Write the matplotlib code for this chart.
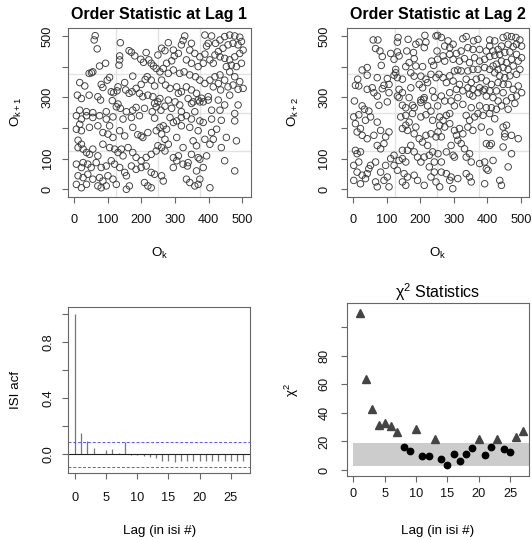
import numpy as np
import matplotlib
matplotlib.use("Agg")
import matplotlib.pyplot as plt

plt.rcParams['font.family'] = ['Liberation Sans', 'DejaVu Sans']
plt.rcParams['mathtext.fontset'] = 'custom'
plt.rcParams['mathtext.rm'] = 'Liberation Sans'
plt.rcParams['mathtext.it'] = 'Liberation Sans:italic'

# ---------------- data ----------------
lag1_points = [
    (62,501),(59,487),(68,458),(137,478),(163,452),(170,447),(180,435),(214,446),(198,424),(206,414),
    (222,422),(229,411),(236,402),(244,394),(249,438),(135,435),(135,422),(133,405),(93,411),(75,402),
    (55,383),(44,378),(51,380),(16,348),(31,337),(80,342),(85,332),(98,356),(105,365),(174,369),
    (150,348),(130,334),(127,321),(117,315),(110,318),(153,324),(163,313),(172,318),(184,329),(199,342),
    (211,358),(217,367),(229,356),(239,337),(194,313),(204,302),(219,307),(234,302),(249,285),(239,280),
    (9,307),(21,296),(44,307),(70,302),(78,291),(113,289),(125,269),(130,278),(137,264),(174,258),
    (184,267),(16,258),(36,253),(55,250),(95,253),(155,253),(209,264),(232,253),(244,269),
    (280,478),(324,485),(329,500),(349,476),(389,503),(409,500),(399,476),(394,467),(421,476),(434,487),
    (448,498),(463,503),(478,500),(493,496),(498,482),(488,471),(473,476),(458,471),(443,460),(429,449),
    (419,438),(434,432),(448,427),(463,422),(478,432),(493,443),(503,454),(468,405),(483,400),(498,411),
    (453,400),(463,383),(478,367),(493,351),(260,460),(270,452),(295,454),(310,443),(319,471),(344,454),
    (359,443),(374,432),(389,441),(404,422),(414,411),(384,411),(369,400),(349,411),(334,422),(298,435),
    (290,419),(275,411),(265,394),(255,383),(280,378),(295,389),(314,378),(327,383),(344,373),(361,367),
    (374,356),(389,345),(404,356),(419,367),(434,373),(448,356),(429,345),(414,334),(436,324),(458,334),
    (473,340),(488,326),(503,329),(463,307),(260,356),(272,340),(285,329),(305,334),(319,318),(334,334),
    (349,324),(364,313),(369,291),(379,297),(399,302),(429,291),(448,275),(488,275),(255,296),(280,291),
    (310,313),(300,285),(314,275),(270,271),(290,264),(339,296),(349,280),(354,285),(374,285),(384,285),
    (399,291),(434,258),(258,258),(319,253),(359,253),(409,258),(478,247),
    (6,240),(21,229),(36,240),(55,234),(75,240),(95,229),(115,236),(145,229),(170,234),(194,240),
    (239,232),(16,212),(6,196),(21,191),(45,202),(70,207),(105,207),(85,185),(100,180),(115,169),
    (135,191),(150,174),(174,202),(189,178),(199,174),(204,169),(219,185),(244,191),(11,160),(21,147),
    (11,136),(26,131),(36,120),(45,114),(55,131),(70,109),(85,147),(105,136),(120,131),(130,120),
    (145,109),(140,131),(160,136),(174,120),(184,104),(199,93),(214,104),(229,114),(244,125),(249,142),
    (6,82),(21,71),(26,87),(40,82),(50,71),(65,87),(80,71),(95,76),(110,93),(120,82),
    (135,71),(150,55),(155,44),(170,76),(184,65),(199,71),(214,76),(229,55),(239,49),(11,44),
    (26,38),(40,49),(55,33),(75,38),(85,27),(100,44),(115,33),(125,16),(6,16),(21,5),
    (36,16),(70,11),(80,5),(95,11),(155,0),(164,11),(209,22),(219,11),(229,5),
    (255,202),(265,207),(275,196),(260,180),(270,163),(280,147),(260,136),(270,125),(285,234),(295,218),
    (305,223),(319,234),(334,240),(349,229),(374,223),(384,218),(409,229),(438,225),(478,223),(319,207),
    (344,202),(369,191),(409,185),(424,196),(453,169),(483,158),(305,169),(324,136),(354,158),(364,142),
    (389,163),(404,147),(414,163),(438,136),(295,103),(310,109),(305,93),(295,71),(339,87),(337,76),
    (369,103),(374,98),(394,109),(384,71),(364,60),(448,93),(478,60),(260,44),(265,27),(334,33),
    (344,22),(359,11),(369,16),(374,33),(404,5),(324,82),(349,114),
]

lag2_points = [
    (60,487),(74,487),(67,459),(80,451),(134,495),(132,480),(164,489),(187,473),(197,480),(214,502),
    (217,480),(212,462),(247,500),(250,451),(87,433),(112,443),(132,448),(122,424),(137,435),(160,451),
    (180,446),(182,426),(167,413),(157,400),(187,402),(207,400),(234,418),(240,404),(84,404),(42,397),
    (27,389),(42,372),(14,359),(7,339),(17,337),(72,364),(102,361),(107,342),(127,391),(127,380),
    (122,372),(132,364),(147,359),(172,380),(182,369),(202,369),(217,359),(232,375),(247,364),(42,326),
    (57,331),(62,315),(87,328),(92,339),(72,304),(107,315),(137,326),(147,315),(172,331),(197,342),
    (207,331),(222,348),(237,321),(242,299),(212,299),(202,291),(132,304),(137,299),(167,299),(4,288),
    (27,272),(34,261),(47,255),(77,274),(102,285),(147,274),(157,266),(177,274),(182,266),(202,283),
    (210,293),(222,272),(232,255),
    (252,502),(263,495),(283,484),(273,467),(288,462),(298,473),(327,491),(337,498),(359,484),(372,489),
    (407,487),(422,484),(447,495),(459,500),(472,498),(485,495),(497,487),(487,473),(502,467),(477,465),
    (462,473),(442,467),(432,456),(417,451),(407,467),(397,451),(377,456),(357,456),(342,462),(322,451),
    (308,443),(288,440),(268,435),(252,424),(273,418),(298,424),(317,418),(332,426),(347,413),(362,429),
    (377,418),(392,424),(407,433),(422,437),(437,440),(452,446),(467,448),(487,440),(502,429),(492,418),
    (472,424),(457,413),(442,418),(427,408),(417,402),(432,391),(447,397),(462,391),(477,402),(497,391),
    (487,375),(467,370),(452,364),(437,370),(422,380),(407,391),(392,397),(372,391),(357,391),(342,386),
    (322,386),(302,386),(312,389),(288,370),(268,364),(256,375),(278,348),(298,353),(317,342),(337,359),
    (352,348),(367,359),(382,364),(397,353),(412,342),(432,348),(447,342),(462,342),(477,326),(492,337),
    (502,315),(487,304),(472,299),(447,315),(427,321),(407,321),(392,326),(377,331),(357,326),(342,331),
    (327,321),(308,326),(288,315),(263,304),(273,288),(292,288),(312,299),(347,310),(357,304),(372,315),
    (387,321),(397,304),(417,299),(432,288),(457,288),(482,280),(252,272),(302,272),(327,277),(352,266),
    (377,272),(397,266),(412,266),(427,261),(442,272),(462,261),
    (2,236),(17,243),(7,214),(22,198),(12,187),(27,176),(42,165),(7,127),(12,116),(22,122),
    (37,225),(52,236),(72,219),(62,176),(82,192),(97,171),(107,187),(92,149),(82,132),(72,143),
    (67,89),(52,78),(47,67),(42,51),(27,46),(12,56),(2,78),(17,89),(2,29),(22,18),
    (37,35),(67,24),(72,8),(92,29),(107,8),(102,40),(82,56),(97,78),(112,100),(122,111),
    (137,94),(147,100),(157,89),(147,127),(162,127),(172,143),(182,122),(192,105),(202,89),(212,105),
    (227,111),(237,122),(222,143),(207,154),(197,165),(217,176),(232,181),(247,171),(182,181),(162,192),
    (147,198),(157,209),(167,219),(142,236),(157,241),(177,247),(202,236),(217,243),(237,225),(187,203),
    (122,78),(132,62),(152,51),(162,40),(147,24),(157,13),(182,46),(192,29),(212,13),(232,40),
    (242,56),(227,73),(242,89),(247,24),
    (258,236),(268,225),(278,241),(288,247),(258,209),(273,203),(288,214),(253,187),(263,171),(302,192),
    (317,198),(308,176),(327,181),(312,160),(322,149),(337,241),(347,225),(362,236),(372,247),(387,241),
    (407,247),(422,230),(342,203),(357,192),(382,203),(407,187),(447,203),(457,209),(452,181),(452,171),
    (472,176),(492,165),(397,149),(407,143),(412,149),(447,138),(292,143),(278,122),(298,111),(302,105),
    (332,132),(347,116),(337,105),(352,89),(377,84),(392,89),(417,94),(397,67),(402,62),(472,116),
    (462,73),(253,116),(263,89),(263,56),(278,51),(292,40),(312,35),(288,29),(258,8),(297,2),
    (337,51),(347,40),(352,24),(392,18),(437,29),(442,13),
]

acf_lags = list(range(0, 28))
acf_values = [1.0, 0.155, 0.098, 0.042, 0.005, 0.033, 0.035, 0.012, 0.088, -0.005,
              -0.008, -0.015, -0.018, -0.025, -0.048, -0.045, -0.052, -0.048, -0.045, -0.045,
              -0.048, -0.050, -0.048, -0.050, -0.050, -0.048, -0.050, -0.050]
acf_ci = 0.088

chi_lags = list(range(1, 28))
chi_values = [110.1, 63.4, 42.4, 31.5, 33.1, 30.6, 26.6, 16.3, 13.3, 28.7,
              9.6, 9.8, 21.9, 7.5, 3.5, 11.0, 6.5, 11.4, 15.4, 21.9,
              10.3, 15.9, 21.9, 14.7, 12.8, 22.9, 27.1]
chi_band = (2.70, 19.02)

scatter_ticks = [0, 100, 200, 300, 400, 500]
scatter_ticklabels = ['0', '100', '', '300', '', '500']
scatter_grid = [125, 250, 375]

# ---------------- figure ----------------
W, H = 532, 540
fig = plt.figure(figsize=(W / 100, H / 100), dpi=100)

def box(x0, y0, x1, y1):
    return [x0 / W, 1 - y1 / H, (x1 - x0) / W, (y1 - y0) / H]

spine_col = '#666666'
tick_fs = 9.2

def style(ax, xpad=8.5, ypad=5.8):
    for s in ax.spines.values():
        s.set_color(spine_col)
        s.set_linewidth(0.8)
    ax.tick_params(direction='out', length=4.3, width=0.8, color=spine_col,
                   labelsize=tick_fs, labelcolor='#111111')
    ax.tick_params(axis='x', pad=xpad)
    ax.tick_params(axis='y', pad=ypad)

def rot_y(ax):
    for lab in ax.get_yticklabels():
        lab.set_rotation(90)
        lab.set_va('center')

def scatter_panel(rect, pts, ypad):
    ax = fig.add_axes(rect)
    p = np.array(pts, dtype=float)
    for g in scatter_grid:
        ax.axvline(g, color='#e3e3e3', lw=1.0, zorder=0)
        ax.axhline(g, color='#e3e3e3', lw=1.0, zorder=0)
    ax.scatter(p[:, 0], p[:, 1], s=22, facecolors='none', edgecolors='#3a3a3a',
               linewidths=0.65, zorder=2)
    ax.set_xlim(-19, 525)
    ax.set_ylim(-23.5, 526)
    ax.set_xticks(scatter_ticks)
    ax.set_yticks(scatter_ticks)
    ax.set_yticklabels(scatter_ticklabels)
    style(ax, ypad=ypad)
    rot_y(ax)
    return ax

ax1 = scatter_panel(box(68, 28, 250.5, 196.5), lag1_points, 5.8)
ax2 = scatter_panel(box(346.7, 28, 529.3, 196.5), lag2_points, 7.5)

# ACF panel
ax3 = fig.add_axes(box(68.3, 307.3, 250, 473.3))
ax3.vlines(acf_lags, 0, acf_values, colors='#777777', lw=0.9)
ax3.axhline(0, color='#222222', lw=0.8)
ax3.axhline(acf_ci, color='#5555ff', lw=0.7, ls=(0, (3, 2)))
ax3.axhline(-acf_ci, color='#5555ff', lw=0.7, ls=(0, (3, 2)))
ax3.set_xlim(-1.08, 28.08)
ax3.set_ylim(-0.135, 1.047)
ax3.set_xticks([0, 5, 10, 15, 20, 25])
ax3.set_yticks([0.0, 0.2, 0.4, 0.6, 0.8, 1.0])
ax3.set_yticklabels(['0.0', '', '0.4', '', '0.8', ''])
style(ax3, xpad=9.5)
rot_y(ax3)

# Chi-square panel
ax4 = fig.add_axes(box(346.7, 303.3, 529.3, 476))
ax4.fill_between([0, 30], chi_band[0], chi_band[1], color='#cccccc', lw=0, zorder=0)
cv = np.array(chi_values)
cl = np.array(chi_lags)
out = cv > chi_band[1]
ax4.plot(cl[out], cv[out], ls='none', marker='^', ms=5.8, color='#444444', zorder=3)
ax4.plot(cl[~out], cv[~out], ls='none', marker='o', ms=4.6, color='#000000', zorder=3)
ax4.set_xlim(-1.08, 28.08)
ax4.set_ylim(-4.2, 116.7)
ax4.set_xticks([0, 5, 10, 15, 20, 25])
ax4.set_yticks([0, 20, 40, 60, 80, 100])
ax4.set_yticklabels(['0', '20', '40', '60', '80', ''])
style(ax4, xpad=4, ypad=7.2)
rot_y(ax4)

# ---------------- text ----------------
def ftext(x, y, s, **kw):
    fig.text(x / W, 1 - y / H, s, **kw)

ftext(159.3, 19.5, 'Order Statistic at Lag 1', ha='center', va='baseline',
      fontsize=11.5, fontweight='bold')
ftext(438, 19.5, 'Order Statistic at Lag 2', ha='center', va='baseline',
      fontsize=11.5, fontweight='bold')
ftext(438, 298, r'χ$^{2}$ Statistics', ha='center', va='baseline', fontsize=11.5)

lab_fs = 9.6
ftext(159.3, 256.5, r'O$_{\mathrm{k}}$', ha='center', va='baseline', fontsize=lab_fs)
ftext(438, 256.5, r'O$_{\mathrm{k}}$', ha='center', va='baseline', fontsize=lab_fs)
ftext(159.3, 534, 'Lag (in isi #)', ha='center', va='baseline', fontsize=lab_fs)
ftext(438, 534, 'Lag (in isi #)', ha='center', va='baseline', fontsize=lab_fs)

ftext(20, 112, r'O$_{\mathrm{k+1}}$', ha='center', va='baseline', rotation=90,
      rotation_mode='anchor', fontsize=lab_fs)
ftext(297, 112, r'O$_{\mathrm{k+2}}$', ha='center', va='baseline', rotation=90,
      rotation_mode='anchor', fontsize=lab_fs)
ftext(19, 390, 'ISI acf', ha='center', va='baseline', rotation=90,
      rotation_mode='anchor', fontsize=lab_fs)
ftext(296, 390, r'χ$^{2}$', ha='center', va='baseline', rotation=90,
      rotation_mode='anchor', fontsize=lab_fs)

fig.savefig('out.png', dpi=100)
